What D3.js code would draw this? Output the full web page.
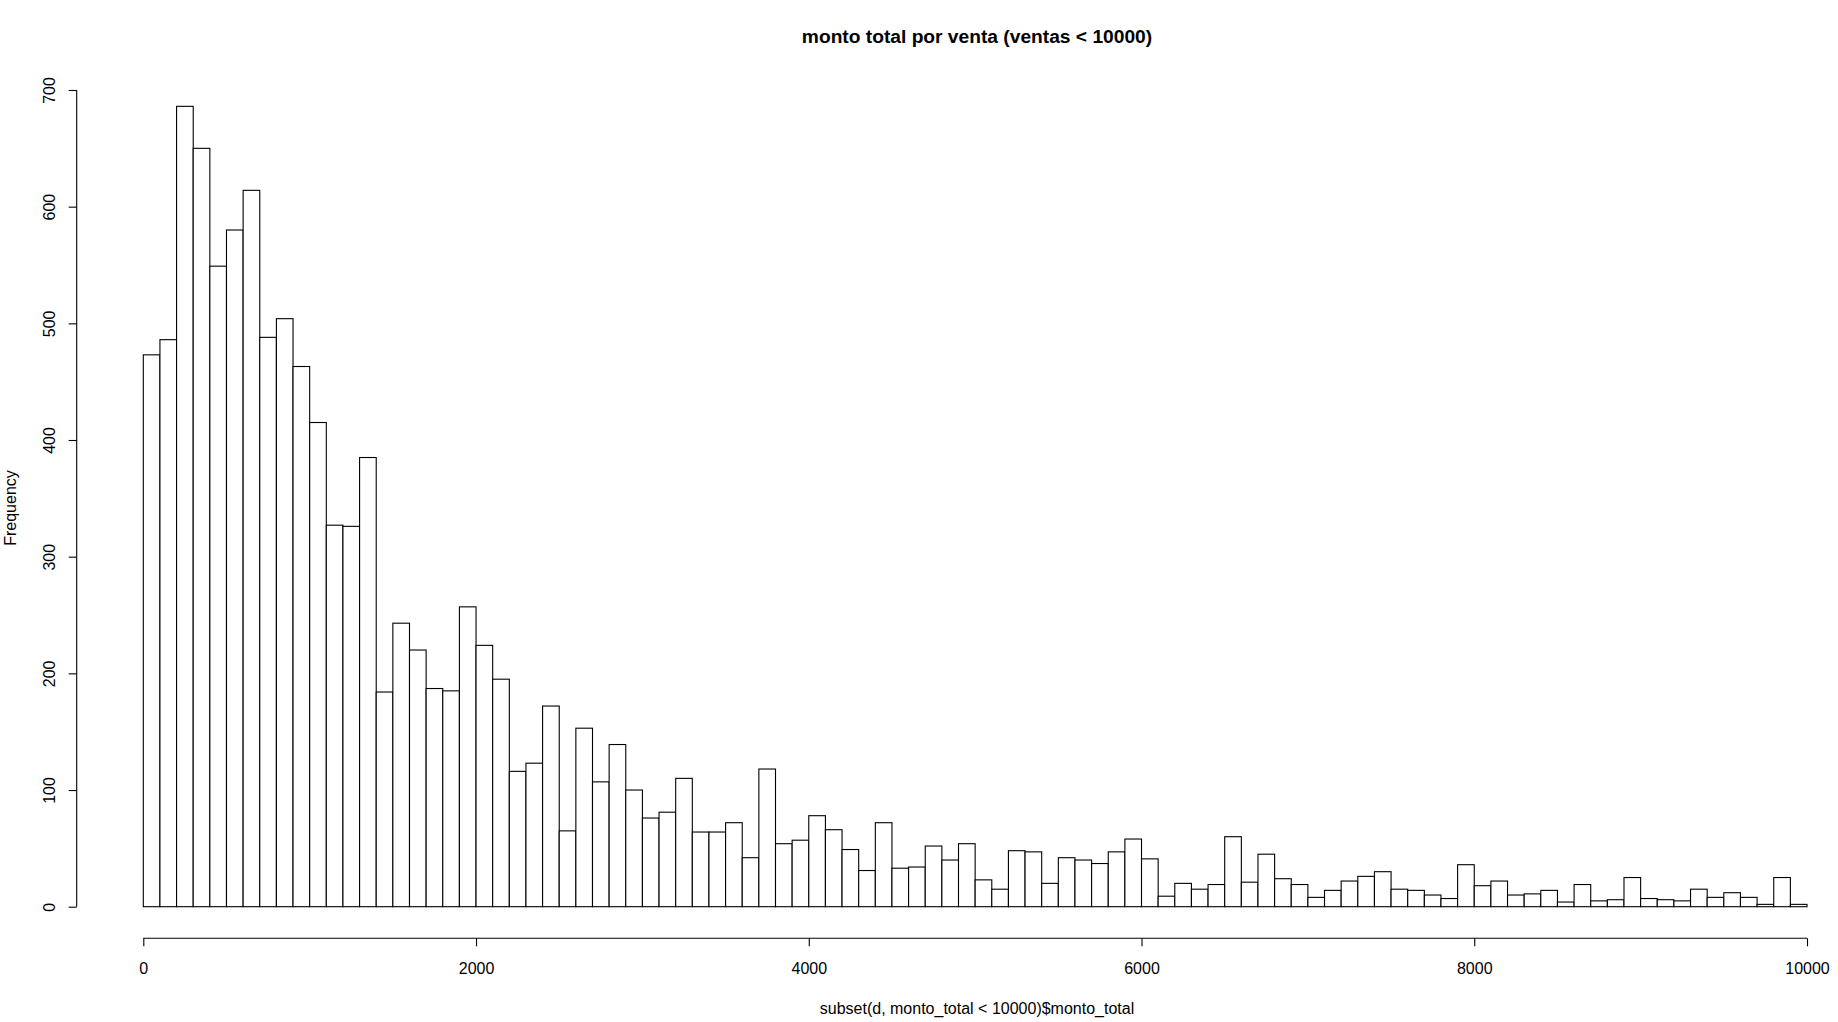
<!DOCTYPE html>
<html>
<head>
<meta charset="utf-8">
<script src="https://cdn.jsdelivr.net/npm/d3@7"></script>
<style>
    html, body { margin: 0; padding: 0; background: #fff; }
    svg { display: block; font-family: "Liberation Sans", Arial, sans-serif; }
</style>
</head>
<body>
<svg id="chart" width="1838" height="1022"></svg>
<script>
// histogram counts, bins of 100 from 0 to 10000
const binWidth = 100;
const counts = [
    473, 486, 686, 650, 549, 580, 614, 488, 504, 463,
    415, 327, 326, 385, 184, 243, 220, 187, 185, 257,
    224, 195, 116, 123, 172, 65, 153, 107, 139, 100,
    76, 81, 110, 64, 64, 72, 42, 118, 54, 57,
    78, 66, 49, 31, 72, 33, 34, 52, 40, 54,
    23, 15, 48, 47, 20, 42, 40, 37, 47, 58,
    41, 9, 20, 15, 19, 60, 21, 45, 24, 19,
    8, 14, 22, 26, 30, 15, 14, 10, 7, 36,
    18, 22, 10, 11, 14, 4, 19, 5, 6, 25,
    7, 6, 5, 15, 8, 12, 8, 2, 25, 2
];
const xTicks = [0, 2000, 4000, 6000, 8000, 10000];
const yTicks = [0, 100, 200, 300, 400, 500, 600, 700];

const title = "monto total por venta (ventas < 10000)";
const xLabel = "subset(d, monto_total < 10000)$monto_total";
const yLabel = "Frequency";

function renderHistogram() {
    const svg = d3.select("#chart");
    const bins = counts.map((c, i) => ({ x0: i * binWidth, x1: (i + 1) * binWidth, count: c }));

    const x = d3.scaleLinear()
        .domain([0, 10000])
        .range([143.3, 1807]);

    const y = d3.scaleLinear()
        .domain([0, 700])
        .range([906.7, 90]);

    svg.append("g")
        .selectAll("rect")
        .data(bins)
        .enter()
        .append("rect")
        .attr("x", (d) => x(d.x0))
        .attr("y", (d) => y(d.count))
        .attr("width", (d) => x(d.x1) - x(d.x0))
        .attr("height", (d) => y(0) - y(d.count))
        .attr("fill", "#fff")
        .attr("stroke", "#000")
        .attr("stroke-width", 1.1);

    // x axis, offset below the bars like base R
    const xAxis = svg.append("g")
        .attr("transform", "translate(0,938.3)")
        .call(d3.axisBottom(x).tickValues(xTicks).tickSize(8).tickPadding(16).tickFormat(d3.format("d")));
    xAxis.select(".domain").attr("d", `M${x(0)},0H${x(10000)}`);
    xAxis.selectAll("path, line").attr("stroke", "#000").attr("stroke-width", 1.1);
    xAxis.selectAll("text")
        .attr("fill", "#000")
        .attr("font-size", 16)
        .attr("font-family", "Liberation Sans, Arial, sans-serif");

    // y axis with rotated labels
    const yAxis = svg.append("g")
        .attr("transform", "translate(76.7,0)")
        .call(d3.axisLeft(y).tickValues(yTicks).tickSize(8).tickFormat(d3.format("d")));
    yAxis.select(".domain").attr("d", `M0,${y(0)}V${y(700)}`);
    yAxis.selectAll("path, line").attr("stroke", "#000").attr("stroke-width", 1.1);
    yAxis.selectAll(".tick text")
        .attr("x", null)
        .attr("dy", null)
        .attr("fill", "#000")
        .attr("font-size", 16)
        .attr("font-family", "Liberation Sans, Arial, sans-serif")
        .attr("text-anchor", "middle")
        .attr("transform", "translate(-21.7,0) rotate(-90)");

    svg.append("text")
        .attr("x", 977)
        .attr("y", 43)
        .attr("text-anchor", "middle")
        .attr("font-size", 19.2)
        .attr("font-weight", "bold")
        .text(title);

    svg.append("text")
        .attr("x", 977)
        .attr("y", 1014)
        .attr("text-anchor", "middle")
        .attr("font-size", 16)
        .text(xLabel);

    svg.append("text")
        .attr("transform", "translate(16,508) rotate(-90)")
        .attr("text-anchor", "middle")
        .attr("font-size", 16)
        .text(yLabel);
}

document.addEventListener("DOMContentLoaded", renderHistogram);
</script>
</body>
</html>
